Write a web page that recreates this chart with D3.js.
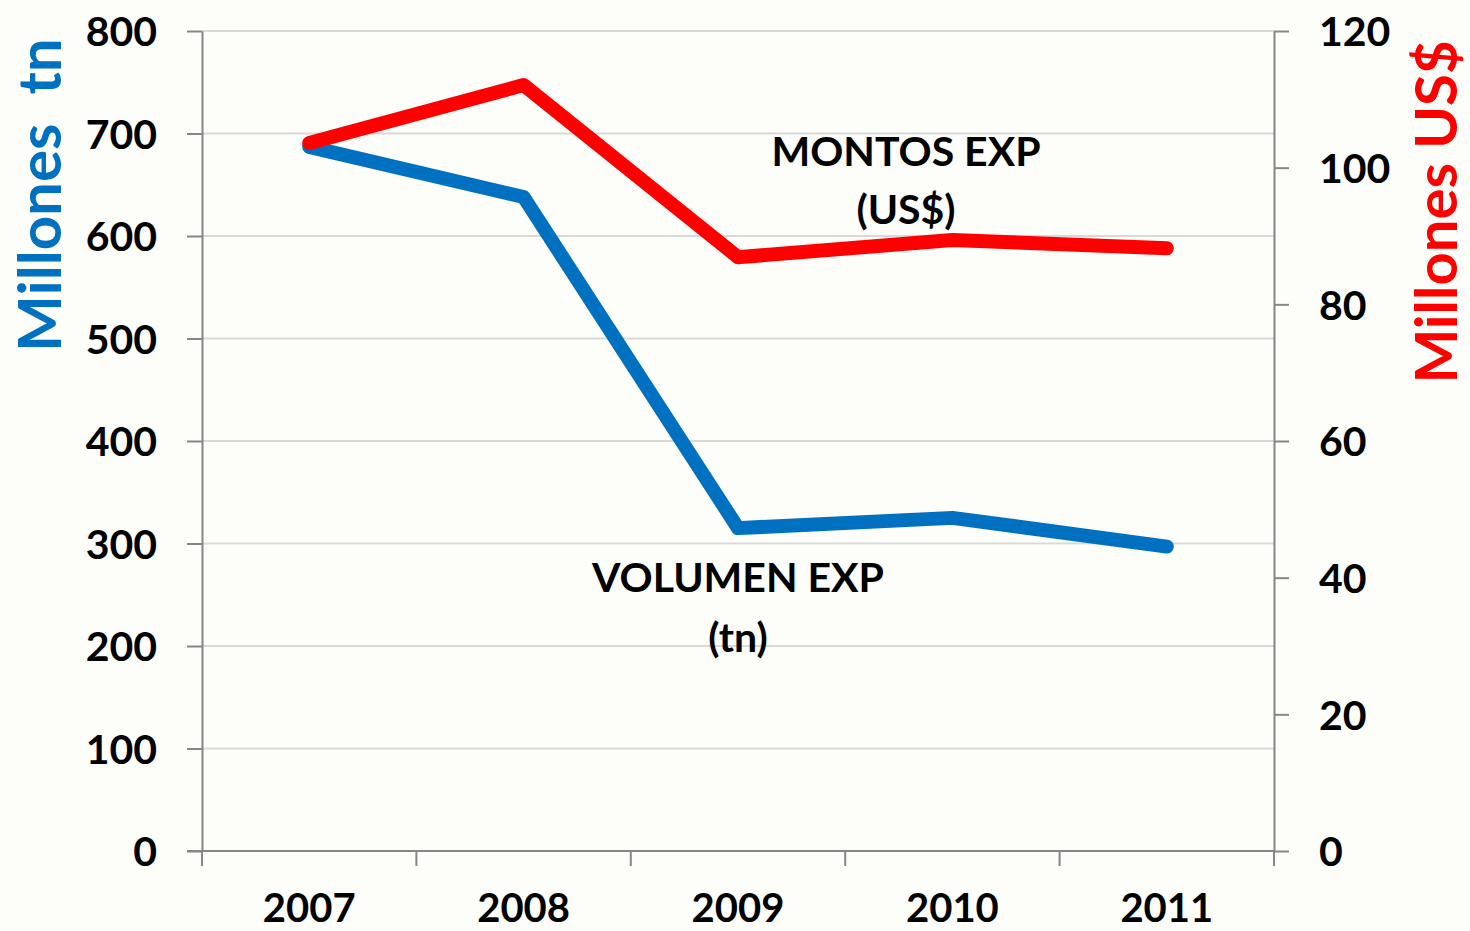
<!DOCTYPE html>
<html><head><meta charset="utf-8">
<script src="https://cdn.jsdelivr.net/npm/d3@7"></script>
<style>
html,body{margin:0;padding:0;background:#fdfdf9;}
svg{display:block;font-family:Lato,"Open Sans",sans-serif;font-weight:bold;}
</style></head>
<body><svg id="c" width="1470" height="931"></svg>
<script>
const years = ["2007","2008","2009","2010","2011"];
const volumen = [687, 638, 315, 325, 297];      // Millones tn
const montos = [103.6, 112.1, 86.9, 89.4, 88.2]; // Millones US$
const leftTicks = [0,100,200,300,400,500,600,700,800];
const rightTicks = [0,20,40,60,80,100,120];

const svg = d3.select("#c");
const L = 202, R = 1274, T = 31, B = 851;
const x = d3.scaleBand().domain(years).range([L, R]).padding(0);
const yL = d3.scaleLinear().domain([0, 800]).range([B, T]);
const yR = d3.scaleLinear().domain([0, 120]).range([B, T]);

// gridlines
svg.append("g").selectAll("line").data(leftTicks.filter(d=>d>0)).join("line")
  .attr("x1", L).attr("x2", R).attr("y1", d=>yL(d)).attr("y2", d=>yL(d))
  .attr("stroke", "#d9d9d9").attr("stroke-width", 2);

function styleAxis(g){
  g.select(".domain").attr("stroke","#868686").attr("stroke-width",2);
  g.selectAll(".tick line").attr("stroke","#868686").attr("stroke-width",2);
  g.selectAll("text").attr("fill","#000").style("font-size","41px").style("font-family","Lato, 'Open Sans', sans-serif").style("font-weight","bold");
}

const gl = svg.append("g").attr("transform",`translate(${L},0)`)
  .call(d3.axisLeft(yL).tickValues(leftTicks).tickSize(15).tickSizeOuter(0).tickPadding(30));
styleAxis(gl);
gl.selectAll("text").attr("dy","0.36em");

const gr = svg.append("g").attr("transform",`translate(${R},0)`)
  .call(d3.axisRight(yR).tickValues(rightTicks).tickSize(15).tickSizeOuter(0).tickPadding(30));
styleAxis(gr);
gr.selectAll("text").attr("dy","0.36em");

// x axis with ticks at band boundaries
const gx = svg.append("g").attr("transform",`translate(0,${B})`);
gx.append("line").attr("x1",L-15).attr("x2",R).attr("y1",0).attr("y2",0)
  .attr("stroke","#868686").attr("stroke-width",2);
const bounds = years.map(d=>x(d)).concat([x(years[years.length-1])+x.bandwidth()]);
gx.selectAll("line.t").data(bounds).join("line").attr("class","t")
  .attr("x1",d=>d).attr("x2",d=>d).attr("y1",0).attr("y2",15)
  .attr("stroke","#868686").attr("stroke-width",2);
gx.selectAll("text").data(years).join("text")
  .attr("x",d=>x(d)+x.bandwidth()/2).attr("y",71)
  .attr("text-anchor","middle").style("font-size","40px").attr("fill","#000").text(d=>d);

// lines
const cx = d => x(d)+x.bandwidth()/2;
const lineL = d3.line().x((d,i)=>cx(years[i])).y(d=>yL(d));
const lineR = d3.line().x((d,i)=>cx(years[i])).y(d=>yR(d));
svg.append("path").datum(volumen).attr("d",lineL)
  .attr("fill","none").attr("stroke","#0070c0").attr("stroke-width",14)
  .attr("stroke-linecap","round").attr("stroke-linejoin","round");
svg.append("path").datum(montos).attr("d",lineR)
  .attr("fill","none").attr("stroke","#ff0000").attr("stroke-width",14)
  .attr("stroke-linecap","round").attr("stroke-linejoin","round");

// annotations
function label(lines, xx, y0, dy){
  lines.forEach((t,i)=>svg.append("text").attr("x",xx).attr("y",y0+i*dy)
    .attr("text-anchor","middle").style("font-size","41px").attr("fill","#000").text(t));
}
label(["MONTOS EXP","(US$)"], 906, 166, 58);
label(["VOLUMEN EXP","(tn)"], 738, 592, 60);

// axis titles
svg.append("text").attr("transform","translate(61,195) rotate(-90)")
  .attr("text-anchor","middle").style("font-size","60px").attr("fill","#0070c0")
  .style("white-space","pre").text("Millones  tn");
svg.append("text").attr("transform","translate(1457,212) rotate(-90)")
  .attr("text-anchor","middle").style("font-size","58px").attr("fill","#ff0000")
  .text("Millones US$");
</script></body></html>
